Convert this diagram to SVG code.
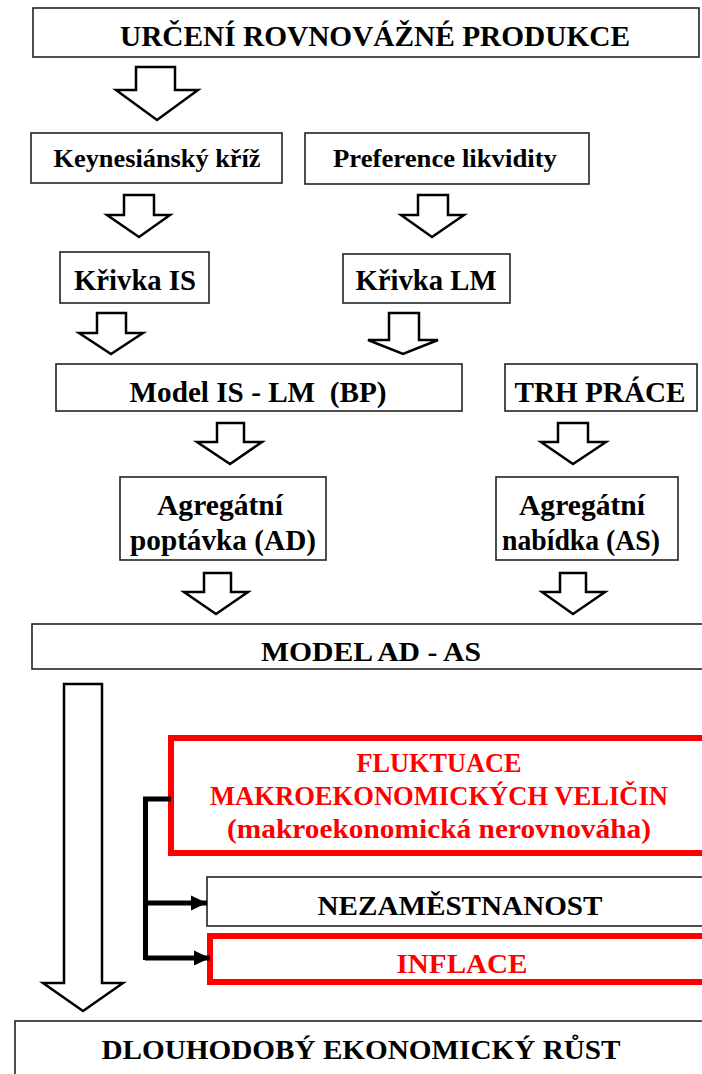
<svg xmlns="http://www.w3.org/2000/svg" width="702" height="1074" viewBox="0 0 702 1074">
<style>
.box{fill:#fff;stroke:#222;stroke-width:1.6}
.red{fill:#fff;stroke:#ff0000;stroke-width:6}
.arr{fill:#fff;stroke:#000;stroke-width:2.5;stroke-linejoin:miter}
.t{font-family:"Liberation Serif","Times New Roman",serif;font-weight:bold;fill:#000;text-anchor:middle}
.tr{fill:#ff0000}
.con{fill:none;stroke:#000;stroke-width:5}
</style>
<defs>
<marker id="ah" markerUnits="userSpaceOnUse" markerWidth="18" markerHeight="18" viewBox="0 0 18 18" refX="16" refY="9" orient="auto">
<path d="M0,1.5 L16,9 L0,16.5 Z" fill="#000"/>
</marker>
</defs>
<rect width="702" height="1074" fill="#fff"/>

<g id="title">
<rect class="box" x="33" y="8" width="666" height="49"/>
<text class="t" x="375" y="46" font-size="29" textLength="510" lengthAdjust="spacingAndGlyphs">URČENÍ ROVNOVÁŽNÉ PRODUKCE</text>
</g>
<g id="keynes">
<rect class="box" x="31" y="133" width="251" height="50"/>
<text class="t" x="157" y="167" font-size="26" textLength="207" lengthAdjust="spacingAndGlyphs">Keynesiánský kříž</text>
</g>
<g id="preference">
<rect class="box" x="305" y="133" width="284" height="51"/>
<text class="t" x="445" y="167" font-size="26" textLength="224" lengthAdjust="spacingAndGlyphs">Preference likvidity</text>
</g>
<g id="krivka-is">
<rect class="box" x="60" y="252" width="149" height="51"/>
<text class="t" x="135" y="290" font-size="29" textLength="122" lengthAdjust="spacingAndGlyphs">Křivka IS</text>
</g>
<g id="krivka-lm">
<rect class="box" x="343" y="254" width="167" height="49"/>
<text class="t" x="426" y="290" font-size="29" textLength="141" lengthAdjust="spacingAndGlyphs">Křivka LM</text>
</g>
<g id="model-islm">
<rect class="box" x="56" y="364" width="406" height="47"/>
<text class="t" x="258" y="402" font-size="29" textLength="257" lengthAdjust="spacingAndGlyphs" xml:space="preserve">Model IS - LM  (BP)</text>
</g>
<g id="trh-prace">
<rect class="box" x="505" y="364" width="192" height="47"/>
<text class="t" x="600" y="402" font-size="29" textLength="171" lengthAdjust="spacingAndGlyphs">TRH PRÁCE</text>
</g>
<g id="ad">
<rect class="box" x="120" y="477" width="206" height="83"/>
<text class="t" x="220" y="515" font-size="29" textLength="126" lengthAdjust="spacingAndGlyphs">Agregátní</text>
<text class="t" x="223" y="550" font-size="29" textLength="186" lengthAdjust="spacingAndGlyphs">poptávka (AD)</text>
</g>
<g id="as">
<rect class="box" x="496" y="477" width="182" height="83"/>
<text class="t" x="582" y="515" font-size="29" textLength="126" lengthAdjust="spacingAndGlyphs">Agregátní</text>
<text class="t" x="581" y="550" font-size="29" textLength="158" lengthAdjust="spacingAndGlyphs">nabídka (AS)</text>
</g>
<g id="model-adas">
<rect class="box" x="32" y="624" width="680" height="45"/>
<text class="t" x="371" y="661" font-size="28" textLength="220" lengthAdjust="spacingAndGlyphs">MODEL AD - AS</text>
</g>
<g id="fluktuace">
<rect class="red" x="171" y="738" width="545" height="115"/>
<text class="t tr" x="439" y="772" font-size="27" textLength="165" lengthAdjust="spacingAndGlyphs">FLUKTUACE</text>
<text class="t tr" x="439" y="805" font-size="27" textLength="458" lengthAdjust="spacingAndGlyphs">MAKROEKONOMICKÝCH VELIČIN</text>
<text class="t tr" x="439" y="838" font-size="27" textLength="424" lengthAdjust="spacingAndGlyphs">(makroekonomická nerovnováha)</text>
</g>
<g id="nezamestnanost">
<rect class="box" x="207" y="877" width="505" height="49"/>
<text class="t" x="460" y="915" font-size="28" textLength="285" lengthAdjust="spacingAndGlyphs">NEZAMĚSTNANOST</text>
</g>
<g id="inflace">
<rect class="red" x="210" y="936" width="505" height="46"/>
<text class="t tr" x="462" y="973" font-size="28" textLength="131" lengthAdjust="spacingAndGlyphs">INFLACE</text>
</g>
<g id="rust">
<rect class="box" x="15" y="1021" width="697" height="70"/>
<text class="t" x="361" y="1059" font-size="28" textLength="519" lengthAdjust="spacingAndGlyphs">DLOUHODOBÝ EKONOMICKÝ RŮST</text>
</g>

<g id="connectors">
<path class="arr" d="M136,67 H175 V90 H198 L157,120 L116,90 H136 Z"/>
<path class="arr" d="M124,195 H154 V215 H170 L139,237 L107,215 H124 Z"/>
<path class="arr" d="M418,195 H448 V215 H464 L432,237 L401,215 H418 Z"/>
<path class="arr" d="M97,313 H126 V333 H143 L111,354 L79,333 H97 Z"/>
<path class="arr" d="M389,313 H419 V340 H438 L403,354 L368,340 H389 Z"/>
<path class="arr" d="M217,423 H244 V442 H262 L230,464 L197,442 H217 Z"/>
<path class="arr" d="M558,423 H588 V442 H606 L573,464 L541,442 H558 Z"/>
<path class="arr" d="M204,573 H231 V592 H248 L216,614 L184,592 H204 Z"/>
<path class="arr" d="M560,573 H586 V592 H605 L573,614 L542,592 H560 Z"/>
<path class="arr" d="M64,684 H102 V983 H123 L83,1011 L43,983 H64 Z"/>
<path class="con" d="M171,799 H145.5 V960"/>
<line class="con" x1="145" y1="903" x2="207" y2="903" marker-end="url(#ah)"/>
<line class="con" x1="145" y1="958" x2="210" y2="958" marker-end="url(#ah)"/>
</g>
</svg>
